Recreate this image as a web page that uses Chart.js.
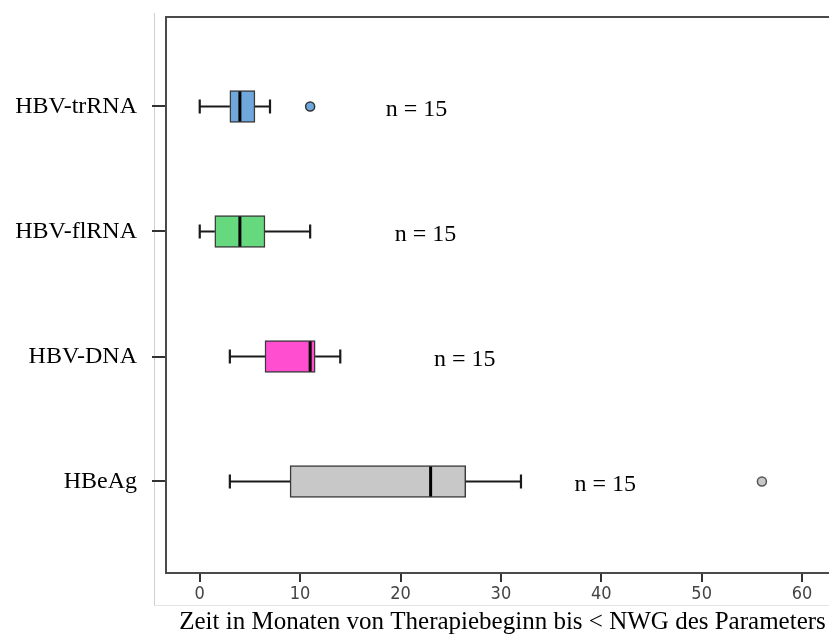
<!DOCTYPE html>
<html>
<head>
<meta charset="utf-8">
<script src="https://cdn.jsdelivr.net/npm/chart.js@4"></script>
<style>
    body { margin: 0; overflow: hidden; background: #fff; }
    .frame {
        position: absolute; left: 154px; top: 13px; width: 700px; height: 592px;
        border-left: 1px solid #cfcfcf; border-bottom: 1px solid #e4e4e4;
    }
    .wrap { position: absolute; left: 0; top: 0; width: 845px; height: 641px; }
</style>
</head>
<body>
<div class="frame"></div>
<div class="wrap"><canvas id="boxChart"></canvas></div>
<script>
const categories = ["HBV-trRNA", "HBV-flRNA", "HBV-DNA", "HBeAg"];
const whiskerLow = [0, 0, 3, 3];
const q1 = [3, 1.5, 6.5, 9];
const median = [4, 4, 11, 23];
const q3 = [5.5, 6.5, 11.5, 26.5];
const whiskerHigh = [7, 11, 14, 32];
const outliers = [[11], [], [], [56]];
const nValues = [15, 15, 15, 15];
const nLabelPos = [21.6, 22.5, 26.4, 40.4];
const boxColors = ["#6fa8dc", "#66d97f", "#ff4fd0", "#c8c8c8"];

const serif = "'Liberation Serif', 'Times New Roman', serif";

// boxes as floating bars, outliers as scatter points
const boxData = categories.map((c, i) => ({ y: i + 1, x: [q1[i], q3[i]] }));
const outlierData = [];
outliers.forEach((list, i) => list.forEach(v => outlierData.push({ x: v, y: i + 1 })));

const boxPlugin = {
    id: "boxParts",
    afterDatasetsDraw(chart) {
        const ctx = chart.ctx;
        const xs = chart.scales.x, ys = chart.scales.y;
        ctx.save();
        categories.forEach((c, i) => {
            const yc = ys.getPixelForValue(i + 1);
            const lo = xs.getPixelForValue(whiskerLow[i]);
            const a = xs.getPixelForValue(q1[i]);
            const b = xs.getPixelForValue(q3[i]);
            const hi = xs.getPixelForValue(whiskerHigh[i]);
            ctx.strokeStyle = "#1a1a1a";
            ctx.lineWidth = 2.2;
            ctx.beginPath();
            ctx.moveTo(lo, yc); ctx.lineTo(a, yc);
            ctx.moveTo(b, yc); ctx.lineTo(hi, yc);
            ctx.moveTo(lo, yc - 7); ctx.lineTo(lo, yc + 7);
            ctx.moveTo(hi, yc - 7); ctx.lineTo(hi, yc + 7);
            ctx.stroke();
            // median
            const m = xs.getPixelForValue(median[i]);
            ctx.strokeStyle = "#000";
            ctx.lineWidth = 3;
            ctx.beginPath();
            ctx.moveTo(m, yc - 15); ctx.lineTo(m, yc + 15);
            ctx.stroke();
            // n label
            ctx.fillStyle = "#000";
            ctx.font = "24px " + serif;
            ctx.textAlign = "center";
            ctx.textBaseline = "middle";
            ctx.fillText("n = " + nValues[i], xs.getPixelForValue(nLabelPos[i]), yc + 3);
        });
        // plot frame
        const area = chart.chartArea;
        ctx.strokeStyle = "#4a4a4a";
        ctx.lineWidth = 2;
        ctx.strokeRect(area.left, area.top, area.right - area.left + 20, area.bottom - area.top);
        ctx.restore();
    }
};

const ctx = document.getElementById("boxChart");

new Chart(ctx, {
    data: {
        datasets: [{
            type: "bar",
            data: boxData,
            backgroundColor: boxColors,
            borderColor: "#3a3a3a",
            borderWidth: 1.5,
            borderSkipped: false,
            barThickness: 32
        }, {
            type: "scatter",
            data: outlierData,
            pointRadius: 4.5,
            pointBorderWidth: 1.5,
            pointBackgroundColor: c => boxColors[c.raw ? c.raw.y - 1 : 0],
            pointBorderColor: c => (c.raw && c.raw.y === 4) ? "#555" : "#333"
        }]
    },
    options: {
        indexAxis: "y",
        responsive: true,
        maintainAspectRatio: false,
        animation: false,
        layout: { padding: { top: 17, right: 5, left: 0, bottom: 0 } },
        plugins: {
            legend: { display: false },
            tooltip: { enabled: false }
        },
        scales: {
            x: {
                type: "linear",
                min: -3.36,
                max: 63.68,
                afterFit: s => { s.height = 68; s.paddingLeft = 0; s.paddingRight = 0; },
                ticks: {
                    stepSize: 10,
                    includeBounds: false,
                    padding: 2,
                    color: "#444",
                    font: { family: "'Liberation Sans Narrow', 'Arial Narrow', 'DejaVu Sans Condensed', 'Liberation Sans', sans-serif", size: 18 }
                },
                grid: { drawOnChartArea: false, drawTicks: true, tickLength: 9, color: "#333", lineWidth: 2 },
                border: { display: false },
                title: {
                    display: true,
                    text: "Zeit in Monaten von Therapiebeginn bis < NWG des Parameters",
                    color: "#000",
                    font: { family: serif, size: 25 },
                    padding: { top: 0, bottom: 4 }
                }
            },
            y: {
                type: "linear",
                reverse: true,
                offset: false,
                min: 0.284,
                max: 4.732,
                afterFit: s => { s.width = 166; s.paddingTop = 0; s.paddingBottom = 0; },
                afterBuildTicks: s => { s.ticks = categories.map((c, i) => ({ value: i + 1 })); },
                ticks: {
                    padding: 15,
                    color: "#000",
                    font: { family: serif, size: 24 },
                    callback: v => categories[v - 1] || ""
                },
                grid: { offset: false, drawOnChartArea: false, drawTicks: true, tickLength: 14, color: "#333", lineWidth: 2 },
                border: { display: false }
            }
        }
    },
    plugins: [boxPlugin]
});
</script>
</body>
</html>
